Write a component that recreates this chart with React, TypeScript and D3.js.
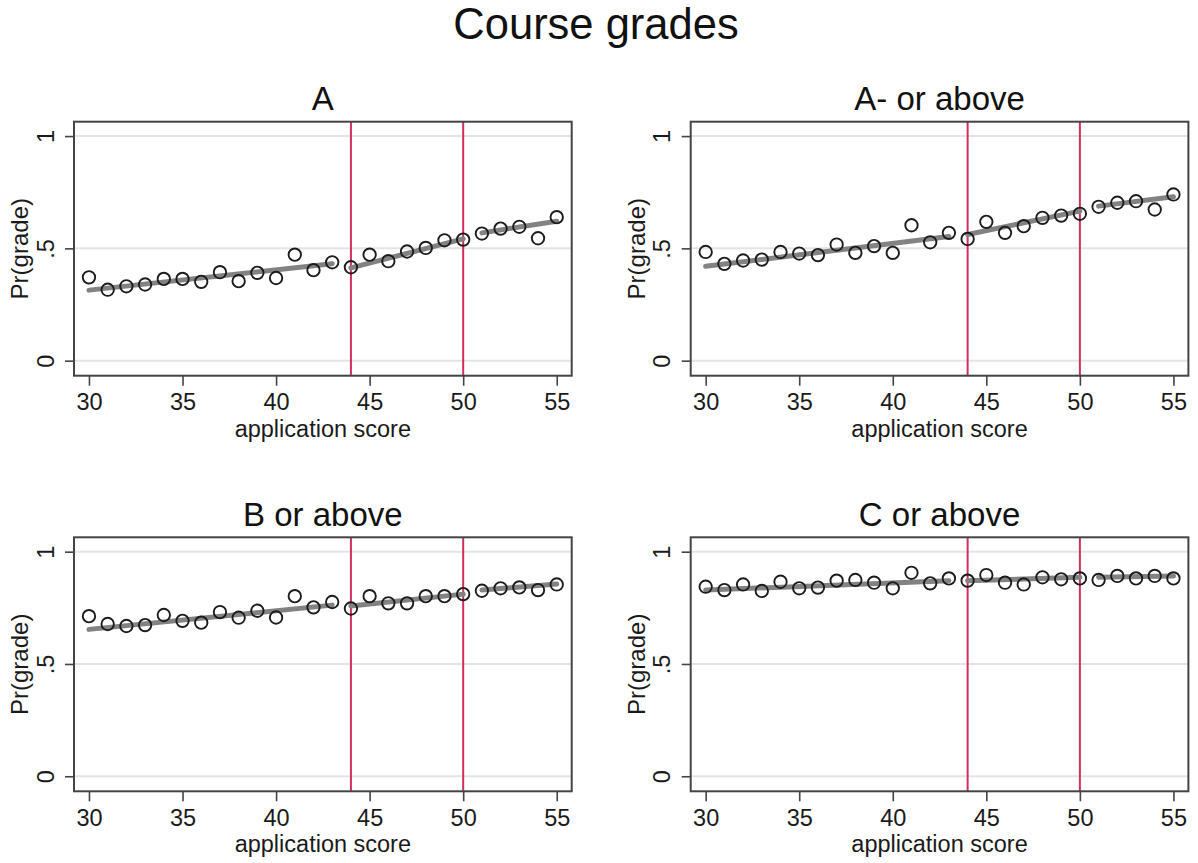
import { useEffect, useRef } from 'react';
import * as d3 from 'd3';

// application scores (x categories)
const scores = [30, 31, 32, 33, 34, 35, 36, 37, 38, 39, 40, 41, 42, 43, 44, 45, 46, 47, 48, 49, 50, 51, 52, 53, 54, 55];

// binned shares per grade threshold
const gradeA = [0.371, 0.316, 0.331, 0.339, 0.364, 0.364, 0.351, 0.394, 0.354, 0.391, 0.368, 0.472, 0.403, 0.438, 0.416, 0.472, 0.443, 0.486, 0.502, 0.536, 0.539, 0.566, 0.588, 0.596, 0.545, 0.639];
const gradeAminus = [0.484, 0.431, 0.446, 0.450, 0.484, 0.477, 0.470, 0.517, 0.480, 0.510, 0.480, 0.603, 0.527, 0.569, 0.542, 0.618, 0.569, 0.599, 0.636, 0.646, 0.654, 0.685, 0.703, 0.710, 0.673, 0.740];
const gradeB = [0.713, 0.678, 0.669, 0.673, 0.718, 0.692, 0.684, 0.731, 0.706, 0.737, 0.707, 0.802, 0.752, 0.776, 0.747, 0.802, 0.770, 0.770, 0.802, 0.802, 0.811, 0.826, 0.837, 0.841, 0.829, 0.854];
const gradeC = [0.844, 0.829, 0.854, 0.825, 0.866, 0.837, 0.840, 0.871, 0.874, 0.862, 0.837, 0.906, 0.859, 0.881, 0.871, 0.896, 0.862, 0.854, 0.886, 0.877, 0.881, 0.874, 0.892, 0.881, 0.892, 0.881];

// fitted line segments: [x1, y1, x2, y2]
const fitA = [[30, 0.314, 43, 0.431], [44, 0.413, 50, 0.542], [51, 0.569, 55, 0.621]];
const fitAminus = [[30, 0.420, 43, 0.553], [44, 0.562, 50, 0.666], [51, 0.688, 55, 0.730]];
const fitB = [[30, 0.654, 43, 0.762], [44, 0.758, 50, 0.811], [51, 0.829, 55, 0.856]];
const fitC = [[30, 0.829, 43, 0.871], [44, 0.871, 50, 0.886], [51, 0.886, 55, 0.892]];

const cutoffs = [44, 50];
const yTicks = [0, 0.5, 1];
const yTickLabels = ['0', '.5', '1'];
const xTicks = [30, 35, 40, 45, 50, 55];

const panelTitles = ['A', 'A- or above', 'B or above', 'C or above'];
const panelValues = [gradeA, gradeAminus, gradeB, gradeC];
const panelFits = [fitA, fitAminus, fitB, fitC];

const FONT = "'Liberation Sans', Arial, sans-serif";

const App = () => {
  const chartRef = useRef(null);

  useEffect(() => {
    d3.select(chartRef.current).selectAll('svg').remove();
    const width = 1198;
    const height = 863;
    const svg = d3.select(chartRef.current)
      .append('svg')
      .attr('width', width)
      .attr('height', height)
      .style('position', 'absolute')
      .style('left', '0px')
      .style('top', '0px')
      .style('background', '#fff');

    svg.append('text')
      .attr('x', 596)
      .attr('y', 39)
      .attr('text-anchor', 'middle')
      .attr('font-family', FONT)
      .attr('font-size', 43.5)
      .attr('fill', '#111')
      .text('Course grades');

    const pw = 497.7;
    const ph = 254;
    const origins = [[74, 121.7], [690.7, 121.7], [74, 537.3], [690.7, 537.3]];

    panelTitles.forEach((title, i) => {
      const [x0, y0] = origins[i];
      const x = d3.scaleLinear().domain([29.2, 55.8]).range([x0, x0 + pw]);
      const y = d3.scaleLinear().domain([-0.067, 1.064]).range([y0 + ph, y0]);
      const g = svg.append('g');

      // gridlines
      g.selectAll('.grid')
        .data(yTicks)
        .enter()
        .append('line')
        .attr('x1', x0)
        .attr('x2', x0 + pw)
        .attr('y1', d => y(d))
        .attr('y2', d => y(d))
        .attr('stroke', '#e4e4e4')
        .attr('stroke-width', 2);

      // cutoff lines
      g.selectAll('.cut')
        .data(cutoffs)
        .enter()
        .append('line')
        .attr('x1', d => x(d))
        .attr('x2', d => x(d))
        .attr('y1', y0)
        .attr('y2', y0 + ph)
        .attr('stroke', '#d22f5c')
        .attr('stroke-width', 2);

      // fitted segments
      g.selectAll('.fit')
        .data(panelFits[i])
        .enter()
        .append('line')
        .attr('x1', d => x(d[0]))
        .attr('y1', d => y(d[1]))
        .attr('x2', d => x(d[2]))
        .attr('y2', d => y(d[3]))
        .attr('stroke', '#828282')
        .attr('stroke-width', 5)
        .attr('stroke-linecap', 'round');

      // binned points
      g.selectAll('.pt')
        .data(scores.map((s, k) => ({ s, v: panelValues[i][k] })))
        .enter()
        .append('circle')
        .attr('cx', d => x(d.s))
        .attr('cy', d => y(d.v))
        .attr('r', 6.2)
        .attr('fill', 'none')
        .attr('stroke', '#1c1c1c')
        .attr('stroke-width', 1.9);

      // frame
      g.append('rect')
        .attr('x', x0)
        .attr('y', y0)
        .attr('width', pw)
        .attr('height', ph)
        .attr('fill', 'none')
        .attr('stroke', '#444')
        .attr('stroke-width', 2);

      // x axis
      const xAxis = g.append('g')
        .attr('transform', `translate(0, ${y0 + ph})`)
        .call(d3.axisBottom(x).tickValues(xTicks).tickSize(10).tickPadding(10).tickFormat(d3.format('d')));
      xAxis.select('.domain').remove();
      xAxis.selectAll('.tick line').attr('stroke', '#444').attr('stroke-width', 1.6);
      xAxis.selectAll('.tick text')
        .attr('font-family', FONT)
        .attr('font-size', 23.5)
        .attr('fill', '#1a1a1a')
        .attr('dy', null)
        .attr('y', 34.8);

      // y axis
      const yAxis = g.append('g')
        .attr('transform', `translate(${x0}, 0)`)
        .call(d3.axisLeft(y).tickValues(yTicks).tickSize(9).tickFormat((d, k) => yTickLabels[k]));
      yAxis.select('.domain').remove();
      yAxis.selectAll('.tick line').attr('stroke', '#444').attr('stroke-width', 1.6);
      yAxis.selectAll('.tick text')
        .attr('font-family', FONT)
        .attr('font-size', 23.5)
        .attr('fill', '#1a1a1a')
        .attr('x', null)
        .attr('dy', null)
        .attr('text-anchor', 'middle')
        .attr('transform', 'translate(-20.5, 0) rotate(-90)');

      // panel title
      g.append('text')
        .attr('x', x0 + pw / 2)
        .attr('y', y0 - 11.7)
        .attr('text-anchor', 'middle')
        .attr('font-family', FONT)
        .attr('font-size', 33)
        .attr('fill', '#111')
        .text(title);

      // axis titles
      g.append('text')
        .attr('x', x0 + pw / 2)
        .attr('y', y0 + ph + 61)
        .attr('text-anchor', 'middle')
        .attr('font-family', FONT)
        .attr('font-size', 23.5)
        .attr('fill', '#1a1a1a')
        .text('application score');

      g.append('text')
        .attr('transform', `translate(${x0 - 46}, ${y0 + ph / 2}) rotate(-90)`)
        .attr('text-anchor', 'middle')
        .attr('font-family', FONT)
        .attr('font-size', 24)
        .attr('fill', '#1a1a1a')
        .text('Pr(grade)');
    });
  }, []);

  return (
    <div>
      <div ref={chartRef}></div>
    </div>
  );
};

export default App;
